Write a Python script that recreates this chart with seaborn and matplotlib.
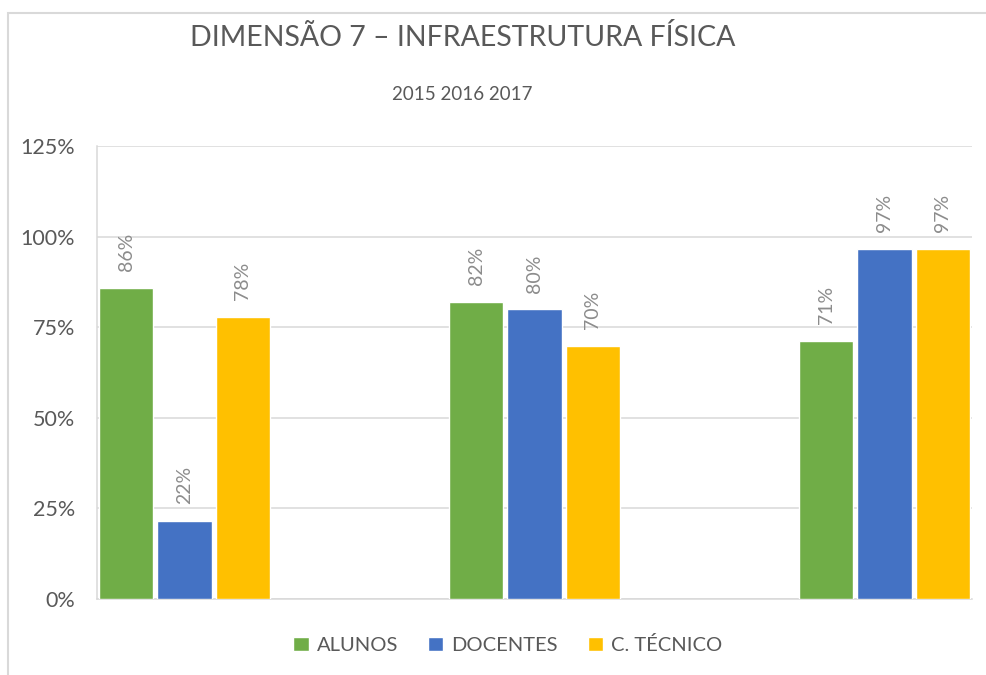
import matplotlib
matplotlib.use("Agg")
import matplotlib.pyplot as plt
from matplotlib.patches import Rectangle
from matplotlib.ticker import FuncFormatter
import pandas as pd
import seaborn as sns

# data
anos = ["2015", "2016", "2017"]
grupos = ["ALUNOS", "DOCENTES", "C. TÉCNICO"]
alunos = [85.8, 82.0, 71.2]
docentes = [21.5, 79.9, 96.7]
tecnico = [77.8, 69.8, 96.7]
cores = ["#70AD47", "#4472C4", "#FFC000"]

df = pd.DataFrame({
    "ano": anos * 3,
    "grupo": [grupos[0]] * 3 + [grupos[1]] * 3 + [grupos[2]] * 3,
    "valor": alunos + docentes + tecnico,
})

sns.set_theme(style="white")
plt.rcParams["font.family"] = ["Lato", "DejaVu Sans"]
texto = "#595959"

fig = plt.figure(figsize=(9.86, 6.75), dpi=100)
ax = fig.add_axes([97 / 986, 1 - 599 / 675, 875 / 986, 453 / 675])

sns.barplot(data=df, x="ano", y="valor", hue="grupo", palette=cores,
            width=0.5, gap=0.07, saturation=1, ax=ax, zorder=3)

for cont in ax.containers:
    ax.bar_label(cont, fmt="%.0f%%", rotation=90, padding=12,
                 fontsize=14, color="#8C8C8C")

ax.set_xlim(-0.25, 2.25)
ax.set_ylim(0, 125)
ax.set_yticks([0, 25, 50, 75, 100, 125])
ax.yaxis.set_major_formatter(FuncFormatter(lambda v, p: f"{v:.0f}%"))
ax.tick_params(axis="y", labelsize=15.5, labelcolor=texto, length=0, pad=16)
ax.set_xticks([])
ax.set_xlabel("")
ax.set_ylabel("")
ax.grid(axis="y", color="#D9D9D9", linewidth=1.1, zorder=0)
ax.set_axisbelow(True)
for s in ["top", "right"]:
    ax.spines[s].set_visible(False)
for s in ["left", "bottom"]:
    ax.spines[s].set_color("#D9D9D9")
    ax.spines[s].set_linewidth(1.1)

handles, labels = ax.get_legend_handles_labels()
ax.legend_.remove()
fig.legend(handles, labels, loc="center", bbox_to_anchor=(508 / 986, 1 - 645 / 675),
           ncol=3, frameon=False, fontsize=14.5, labelcolor=texto,
           handlelength=0.75, handleheight=0.75, handletextpad=0.4, columnspacing=1.5)

fig.text(463 / 986, 1 - 37 / 675, "DIMENSÃO 7 – INFRAESTRUTURA FÍSICA",
         ha="center", va="center", fontsize=20.5, color=texto)
fig.text(462 / 986, 1 - 94 / 675, "2015 2016 2017",
         ha="center", va="center", fontsize=13.5, color=texto)

fig.add_artist(Rectangle((8 / 986, -0.1), 1.0, 0.1 + 1 - 13 / 675,
                         transform=fig.transFigure, fill=False,
                         edgecolor="#D9D9D9", linewidth=1.5))

fig.savefig("out.png", dpi=100, facecolor="white")
